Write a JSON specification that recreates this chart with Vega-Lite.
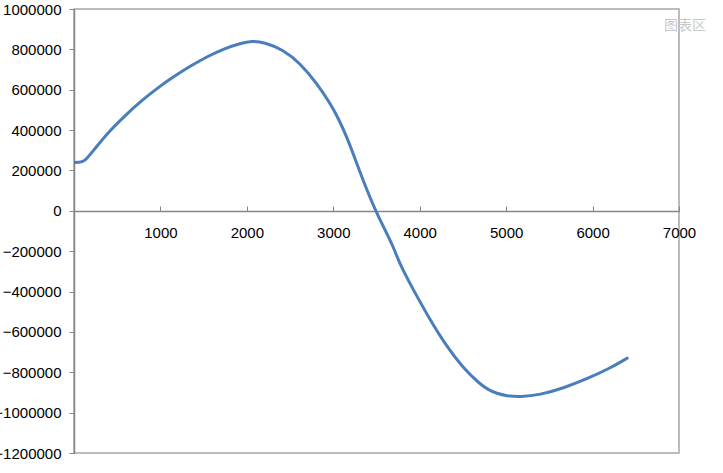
{
  "$schema": "https://vega.github.io/schema/vega-lite/v6.json",
  "width": 605,
  "height": 444,
  "autosize": {"type": "none"},
  "padding": {"left": 74, "top": 9, "right": 44, "bottom": 20},
  "background": "white",
  "config": {
    "view": {"stroke": "#a6a6a6", "strokeWidth": 1.5},
    "font": "Liberation Sans"
  },
  "datasets": {
    "curve": [
      {"x": 0, "y": 240000},
      {"x": 60, "y": 240000},
      {"x": 116, "y": 241000},
      {"x": 231, "y": 302000},
      {"x": 386, "y": 385000},
      {"x": 579, "y": 467000},
      {"x": 771, "y": 542000},
      {"x": 964, "y": 608000},
      {"x": 1157, "y": 666000},
      {"x": 1350, "y": 718000},
      {"x": 1543, "y": 765000},
      {"x": 1736, "y": 803000},
      {"x": 1929, "y": 831000},
      {"x": 2060, "y": 841000},
      {"x": 2199, "y": 836000},
      {"x": 2422, "y": 798000},
      {"x": 2615, "y": 732000},
      {"x": 2808, "y": 633000},
      {"x": 2962, "y": 534000},
      {"x": 3058, "y": 459000},
      {"x": 3155, "y": 368000},
      {"x": 3271, "y": 236000},
      {"x": 3387, "y": 104000},
      {"x": 3494, "y": -3000},
      {"x": 3579, "y": -78000},
      {"x": 3695, "y": -177000},
      {"x": 3772, "y": -268000},
      {"x": 3926, "y": -391000},
      {"x": 4119, "y": -540000},
      {"x": 4312, "y": -672000},
      {"x": 4505, "y": -780000},
      {"x": 4697, "y": -859000},
      {"x": 4800, "y": -888000},
      {"x": 4890, "y": -905000},
      {"x": 5006, "y": -917000},
      {"x": 5160, "y": -922000},
      {"x": 5392, "y": -912000},
      {"x": 5662, "y": -879000},
      {"x": 5932, "y": -833000},
      {"x": 6202, "y": -780000},
      {"x": 6414, "y": -727000}
    ],
    "tip": [{"x": 7069, "y": 915000, "t": "图表区"}]
  },
  "layer": [
    {
      "data": {"name": "curve"},
      "mark": {"type": "line", "color": "#4a7ebb", "strokeWidth": 3, "interpolate": "basis", "clip": false},
      "encoding": {
        "x": {
          "field": "x", "type": "quantitative",
          "scale": {"domain": [0, 7000], "nice": false, "zero": false},
          "axis": {
            "title": null, "orient": "bottom", "offset": -242,
            "values": [0, 1000, 2000, 3000, 4000, 5000, 6000, 7000],
            "grid": false,
            "domainColor": "#868686", "domainWidth": 1.5,
            "tickColor": "#868686", "tickSize": -5, "tickWidth": 1,
            "labelPadding": 19,
            "labelExpr": "datum.value == 0 ? '' : datum.label",
            "labelFont": "Liberation Sans", "labelFontSize": 15, "labelColor": "#000000",
            "format": "d", "labelFlush": false, "labelOverlap": false
          }
        },
        "y": {
          "field": "y", "type": "quantitative",
          "scale": {"domain": [-1200000, 1000000], "nice": false, "zero": false},
          "axis": {
            "title": null,
            "values": [-1200000, -1000000, -800000, -600000, -400000, -200000, 0, 200000, 400000, 600000, 800000, 1000000],
            "grid": false,
            "domainColor": "#868686", "domainWidth": 1.5,
            "tickColor": "#868686", "tickSize": 5, "tickWidth": 1,
            "labelPadding": 8,
            "labelFont": "Liberation Sans", "labelFontSize": 15, "labelColor": "#000000",
            "format": "d", "labelFlush": false, "labelOverlap": false
          }
        }
      }
    },
    {
      "data": {"name": "tip"},
      "mark": {"type": "text", "color": "#c8c8c8", "fontSize": 14, "font": "Noto Sans CJK SC", "clip": false},
      "encoding": {
        "x": {"field": "x", "type": "quantitative"},
        "y": {"field": "y", "type": "quantitative"},
        "text": {"field": "t"}
      }
    }
  ]
}
